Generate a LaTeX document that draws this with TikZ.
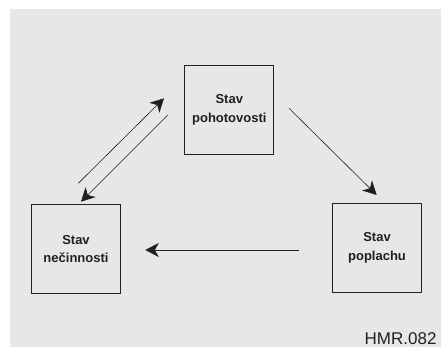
\documentclass[tikz,border=0pt]{standalone}
\usepackage{fontspec}
\setmainfont{Liberation Sans}
\usetikzlibrary{arrows.meta}
\definecolor{bg}{HTML}{E6E7E9}
\definecolor{ink}{HTML}{231F20}
\tikzset{
  statebox/.style={draw=ink, line width=0.9pt, minimum width=89pt, minimum height=89pt,
    inner sep=0pt, align=center, text=ink, font=\fontsize{13}{18.5}\selectfont\bfseries},
  trans/.style={draw=ink, line width=0.6pt, -{Stealth[length=13.5pt,width=14pt,inset=4pt]}}
}
\begin{document}
\begin{tikzpicture}[x=1pt,y=-1pt]
  \useasboundingbox (0,0) rectangle (441,347);
  \fill[bg] (10,9) rectangle (441,347);
  \node[statebox] (ready) at (229.3,109.8) {Stav\\pohotovosti};
  \node[statebox] (idle) at (76,248.8) {Stav\\nečinnosti};
  \node[statebox] (alarm) at (377,247.8) {Stav\\poplachu};
  \coordinate (a1s) at (78.3,183.3);
  \coordinate (a1e) at (164,98.3);
  \coordinate (a2s) at (167.7,115);
  \coordinate (a2e) at (81,201.7);
  \coordinate (a3s) at (289,108.3);
  \coordinate (a3e) at (376.7,195);
  \coordinate (a4s) at (299,250);
  \coordinate (a4e) at (145.3,250);
  \draw[trans] (a1s) -- (a1e);
  \draw[trans] (a2s) -- (a2e);
  \draw[trans] (a3s) -- (a3e);
  \draw[trans] (a4s) -- (a4e);
  \node[anchor=base west, inner sep=0pt, text=ink, font=\fontsize{17}{17}\selectfont] (code) at (364.5,344.5) {HMR.082};
\end{tikzpicture}
\end{document}
